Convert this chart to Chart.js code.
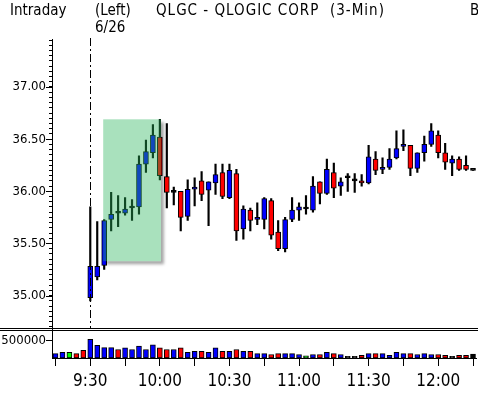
<!DOCTYPE html>
<html>
<head>
<meta charset="utf-8">
<script src="https://cdn.jsdelivr.net/npm/chart.js@4/dist/chart.umd.min.js"></script>
<style>
  html, body { margin: 0; padding: 0; background: #fff; }
  #wrap { width: 478px; height: 395px; position: relative; }
</style>
</head>
<body>
<div id="wrap"><canvas id="chart" width="478" height="395"></canvas></div>
<script>
// 3-minute bars, 5 pre-market slots before the 9:30 open
const times = [
    '9:15', '9:18', '9:21', '9:24', '9:27', '9:30', '9:33', '9:36', '9:39', '9:42',
    '9:45', '9:48', '9:51', '9:54', '9:57', '10:00', '10:03', '10:06', '10:09', '10:12',
    '10:15', '10:18', '10:21', '10:24', '10:27', '10:30', '10:33', '10:36', '10:39', '10:42',
    '10:45', '10:48', '10:51', '10:54', '10:57', '11:00', '11:03', '11:06', '11:09', '11:12',
    '11:15', '11:18', '11:21', '11:24', '11:27', '11:30', '11:33', '11:36', '11:39', '11:42',
    '11:45', '11:48', '11:51', '11:54', '11:57', '12:00', '12:03', '12:06', '12:09', '12:12',
    '12:15'
];

const open = [
    null, null, null, null, null,
    34.98, 35.18, 35.29, 35.73, 35.79, 35.79, 35.84, 35.85, 36.26, 36.37,
    36.52, 36.14, 35.99, 36.00, 35.76, 36.02, 36.10, 36.01, 36.08, 36.18,
    35.94, 36.17, 35.64, 35.82, 35.73, 35.73, 35.91, 35.61, 35.45, 35.73,
    35.82, 35.83, 35.82, 36.09, 35.98, 36.18, 36.05, 36.13, 36.10, 36.10,
    36.08, 36.31, 36.21, 36.23, 36.32, 36.43, 36.44, 36.22, 36.37, 36.45,
    36.54, 36.37, 36.27, 36.31, 36.25, 36.20
];
const high = [
    null, null, null, null, null,
    35.85, 35.71, 35.73, 35.99, 35.96, 35.94, 35.92, 36.34, 36.49, 36.64,
    36.69, 36.65, 36.04, 36.00, 36.11, 36.13, 36.19, 36.09, 36.26, 36.26,
    36.26, 36.21, 35.86, 35.84, 35.89, 35.94, 35.93, 35.72, 35.75, 35.94,
    35.89, 35.96, 36.14, 36.09, 36.31, 36.27, 36.13, 36.17, 36.17, 36.16,
    36.44, 36.38, 36.32, 36.41, 36.58, 36.59, 36.44, 36.37, 36.53, 36.65,
    36.58, 36.46, 36.34, 36.33, 36.34, 36.20
];
const low = [
    null, null, null, null, null,
    34.95, 35.15, 35.25, 35.62, 35.66, 35.77, 35.72, 35.78, 36.18, 36.32,
    36.11, 35.84, 35.87, 35.62, 35.72, 35.86, 35.91, 35.67, 35.97, 35.93,
    35.93, 35.53, 35.54, 35.62, 35.68, 35.64, 35.54, 35.43, 35.42, 35.71,
    35.72, 35.78, 35.80, 35.88, 35.97, 35.94, 35.96, 36.00, 35.99, 36.05,
    36.07, 36.16, 36.17, 36.21, 36.31, 36.39, 36.15, 36.18, 36.29, 36.43,
    36.32, 36.21, 36.15, 36.20, 36.20, 36.20
];
const close = [
    null, null, null, null, null,
    35.28, 35.28, 35.72, 35.78, 35.79, 35.83, 35.84, 36.26, 36.38, 36.54,
    36.15, 35.99, 35.99, 35.75, 36.02, 36.04, 35.97, 36.09, 36.16, 35.95,
    36.20, 35.62, 35.83, 35.72, 35.75, 35.93, 35.58, 35.45, 35.73, 35.82,
    35.85, 35.83, 36.05, 35.98, 36.21, 36.03, 36.09, 36.13, 36.10, 36.08,
    36.33, 36.20, 36.23, 36.31, 36.41, 36.45, 36.22, 36.37, 36.45, 36.58,
    36.37, 36.28, 36.31, 36.21, 36.21, 36.20
];

const volume = [
    125000, 160000, 160000, 125000, 220000,
    530000, 360000, 295000, 295000, 240000, 285000, 240000, 340000, 240000, 370000,
    285000, 240000, 240000, 285000, 160000, 190000, 190000, 160000, 285000, 190000,
    190000, 240000, 190000, 190000, 125000, 125000, 100000, 125000, 125000, 125000,
    100000, 60000, 100000, 100000, 160000, 125000, 100000, 50000, 50000, 75000,
    125000, 125000, 125000, 75000, 160000, 125000, 125000, 100000, 125000, 100000,
    100000, 75000, 50000, 75000, 75000, 110000
];
// b = up, r = down, g / k = unchanged
const volColor = [
    'b', 'b', 'g', 'r', 'r',
    'b', 'b', 'b', 'b', 'r', 'b', 'b', 'b', 'b', 'b',
    'r', 'r', 'b', 'r', 'b', 'b', 'r', 'b', 'b', 'r',
    'b', 'r', 'b', 'r', 'b', 'b', 'r', 'r', 'b', 'b',
    'b', 'g', 'b', 'r', 'b', 'r', 'b', 'k', 'k', 'r',
    'b', 'r', 'b', 'b', 'b', 'b', 'r', 'b', 'b', 'b',
    'r', 'r', 'k', 'r', 'r', 'k'
];

const priceLabels = ['35.00', '35.50', '36.00', '36.50', '37.00'];
const timeLabels = ['9:30', '10:00', '10:30', '11:00', '11:30', '12:00'];
const volLabels = ['500000'];

// highlighted zone
const zoneTimes = ['9:36', '10:00'];
const zonePrices = [35.33, 36.69];

const BLUE = '#0000ff', RED = '#ff0000', GREEN = '#00ff00', BLACK = '#000000';
const volColors = { b: BLUE, r: RED, g: GREEN, k: BLACK };
const tickFont = "'DejaVu Sans Condensed', 'DejaVu Sans', sans-serif";
const timeFont = "'Liberation Sans Narrow', 'DejaVu Sans Condensed', sans-serif";

function candleColor(i) {
    if (close[i] > open[i]) return BLUE;
    if (close[i] < open[i]) return RED;
    return BLACK;
}

const decor = {
    id: 'decor',
    afterDatasetsDraw(chart) {
        const { ctx, scales } = chart;
        const x = scales.x, y = scales.y;
        const x0 = x.getPixelForValue(times.indexOf(zoneTimes[0])) - 1;
        const x1 = x.getPixelForValue(times.indexOf(zoneTimes[1])) + 1;
        const y0 = y.getPixelForValue(zonePrices[1]);
        const y1 = y.getPixelForValue(zonePrices[0]);

        // soft shadow (outside the box only)
        ctx.save();
        ctx.beginPath();
        ctx.rect(0, 0, chart.width, chart.height);
        ctx.rect(x0, y0, x1 - x0, y1 - y0);
        ctx.clip('evenodd');
        ctx.filter = 'blur(1.5px)';
        ctx.fillStyle = 'rgba(0,0,0,0.35)';
        ctx.fillRect(x0 + 3, y0 + 3, x1 - x0, y1 - y0);
        ctx.restore();

        ctx.save();
        ctx.fillStyle = 'rgba(40,180,90,0.4)';
        ctx.fillRect(x0, y0, x1 - x0, y1 - y0);
        ctx.restore();
    },
    afterDraw(chart) {
        const { ctx, scales, chartArea } = chart;
        const y = scales.y, v = scales.vol;

        // session open marker
        const xo = Math.round(scales.x.getPixelForValue(times.indexOf('9:30'))) + 0.5;
        ctx.save();
        ctx.strokeStyle = BLACK;
        ctx.lineWidth = 1;
        ctx.setLineDash([8, 3, 2, 3]);
        ctx.beginPath();
        ctx.moveTo(xo, chartArea.top - 1);
        ctx.lineTo(xo, v.top);
        ctx.stroke();
        ctx.restore();

        // panel separator
        ctx.save();
        ctx.strokeStyle = BLACK;
        ctx.lineWidth = 1;
        const sep = Math.round(y.bottom);
        ctx.beginPath();
        ctx.moveTo(0, sep - 0.5); ctx.lineTo(chart.width, sep - 0.5);
        ctx.moveTo(0, sep + 1.5); ctx.lineTo(chart.width, sep + 1.5);
        ctx.stroke();

        // longer ticks at labelled values
        const left = Math.round(chartArea.left);
        ctx.beginPath();
        priceLabels.forEach(p => {
            const py = Math.round(y.getPixelForValue(+p)) + 0.5;
            ctx.moveTo(left - 6, py); ctx.lineTo(left, py);
        });
        volLabels.forEach(p => {
            const py = Math.round(v.getPixelForValue(+p)) + 0.5;
            ctx.moveTo(left - 6, py); ctx.lineTo(left, py);
        });
        ctx.stroke();
        ctx.restore();

        // header
        ctx.save();
        ctx.fillStyle = BLACK;
        ctx.font = "15px " + tickFont;
        ctx.textBaseline = 'alphabetic';
        ctx.fillText('Intraday', 10, 15);
        ctx.fillText('(Left)', 95, 15);
        ctx.fillText('6/26', 95, 32);
        ctx.fillText('B', 470, 15);
        ctx.letterSpacing = '1px';
        ctx.fillText('QLGC - QLOGIC CORP  (3-Min)', 156, 15);
        ctx.restore();
    }
};

new Chart(document.getElementById('chart'), {
    type: 'bar',
    data: {
        labels: times,
        datasets: [
            {
                label: 'Body',
                data: times.map((t, i) => open[i] == null ? null : [open[i], close[i]]),
                yAxisID: 'y',
                backgroundColor: times.map((t, i) => candleColor(i)),
                borderColor: BLACK,
                borderWidth: 1,
                borderSkipped: false,
                barThickness: 5,
                minBarLength: 2,
                grouped: false,
                order: 0
            },
            {
                label: 'Range',
                data: times.map((t, i) => low[i] == null ? null : [low[i], high[i]]),
                yAxisID: 'y',
                backgroundColor: BLACK,
                borderWidth: 0,
                barThickness: 1.5,
                grouped: false,
                order: 1
            },
            {
                label: 'Volume',
                data: volume,
                yAxisID: 'vol',
                backgroundColor: volColor.map(c => volColors[c]),
                borderColor: BLACK,
                borderWidth: 1,
                borderSkipped: false,
                barThickness: 5,
                grouped: false,
                order: 2
            }
        ]
    },
    options: {
        responsive: false,
        animation: false,
        layout: { padding: { top: 39, right: 0, left: 0, bottom: 0 } },
        plugins: {
            legend: { display: false },
            tooltip: { enabled: false }
        },
        scales: {
            x: {
                type: 'category',
                offset: true,
                afterFit: s => { s.height = 37; },
                grid: {
                    offset: false,
                    drawOnChartArea: false,
                    tickLength: 8,
                    color: ctx => ctx.index % 5 === 0 ? BLACK : 'rgba(0,0,0,0)'
                },
                border: { color: BLACK, width: 1 },
                ticks: {
                    autoSkip: false,
                    maxRotation: 0,
                    padding: 5,
                    color: BLACK,
                    font: { family: timeFont, size: 17 },
                    callback: (val, i) => timeLabels.includes(times[i]) ? times[i] : ''
                }
            },
            vol: {
                type: 'linear',
                position: 'left',
                stack: 'panels',
                stackWeight: 29,
                min: 0,
                max: 820000,
                afterFit: s => { s.width = 52; },
                afterBuildTicks: s => { s.ticks = volLabels.map(l => ({ value: +l })); },
                grid: { drawOnChartArea: false, tickLength: 3, color: BLACK },
                border: { color: BLACK, width: 1 },
                ticks: {
                    autoSkip: false,
                    padding: 3,
                    color: BLACK,
                    font: { family: tickFont, size: 13 },
                    callback: val => String(val)
                }
            },
            y: {
                type: 'linear',
                position: 'left',
                stack: 'panels',
                stackWeight: 290,
                min: 34.68,
                max: 37.46,
                afterFit: s => { s.width = 52; },
                afterBuildTicks: s => {
                    const t = [];
                    for (let k = Math.ceil(s.min * 20 - 1e-6); k <= Math.floor(s.max * 20 + 1e-6); k++) {
                        t.push({ value: k / 20 });
                    }
                    s.ticks = t;
                },
                grid: { drawOnChartArea: false, tickLength: 3, color: BLACK },
                border: { color: BLACK, width: 1 },
                ticks: {
                    autoSkip: false,
                    padding: 3,
                    color: BLACK,
                    font: { family: tickFont, size: 13 },
                    callback: val => {
                        const s = Number(val).toFixed(2);
                        return priceLabels.includes(s) ? s : '';
                    }
                }
            }
        }
    },
    plugins: [decor]
});
</script>
</body>
</html>
